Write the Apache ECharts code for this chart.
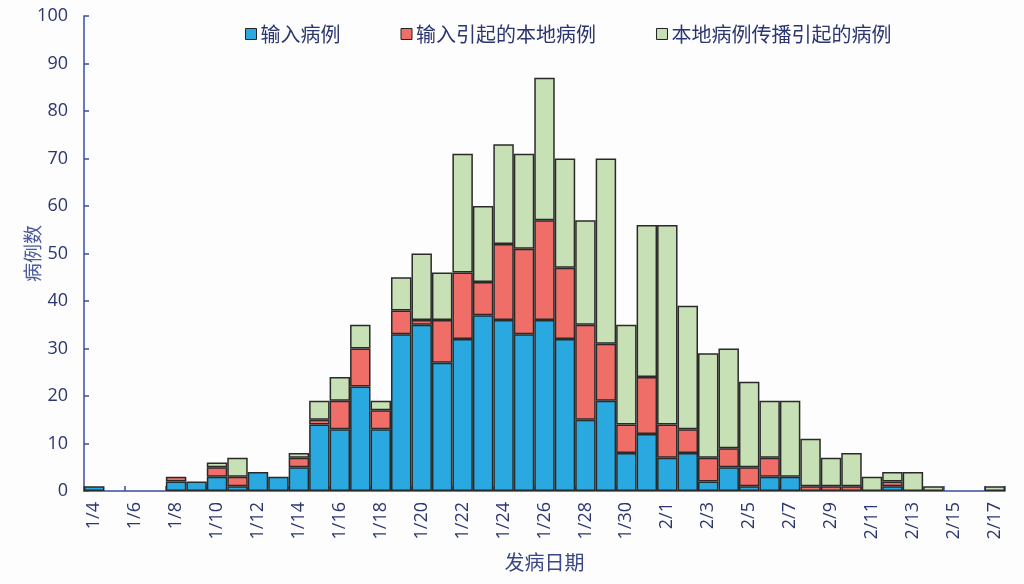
<!DOCTYPE html>
<html>
<head>
<meta charset="utf-8">
<script src="https://cdn.jsdelivr.net/npm/echarts@6/dist/echarts.min.js"></script>
<style>
html,body{margin:0;padding:0;background:#fdfdfd;}
#c{width:1024px;height:584px;}
</style>
</head>
<body>
<div id="c"></div>
<script>
// Categories (onset dates)
const dates = ['1/4','1/5','1/6','1/7','1/8','1/9','1/10','1/11','1/12','1/13','1/14','1/15','1/16','1/17','1/18','1/19','1/20','1/21','1/22','1/23','1/24','1/25','1/26','1/27','1/28','1/29','1/30','1/31',
  '2/1','2/2','2/3','2/4','2/5','2/6','2/7','2/8','2/9','2/10','2/11','2/12','2/13','2/14','2/15','2/16','2/17'];
// 输入病例
const imported = [1,0,0,0,2,2,3,1,4,3,5,14,13,22,13,33,35,27,32,37,36,33,36,32,15,19,8,12,
  7,8,2,5,1,3,3,0,0,0,0,1,0,0,0,0,0];
// 输入引起的本地病例
const localFromImported = [0,0,0,0,1,0,2,2,0,0,2,1,6,8,4,5,1,9,14,7,16,18,21,15,20,12,6,12,
  7,5,5,4,4,4,0,1,1,1,0,1,0,0,0,0,0];
// 本地病例传播引起的病例
const localFromLocal = [0,0,0,0,0,0,1,4,0,0,1,4,5,5,2,7,14,10,25,16,21,20,30,23,22,39,21,32,
  42,26,22,21,18,12,16,10,6,7,3,2,4,1,0,0,1];
const seriesNames = ['输入病例','输入引起的本地病例','本地病例传播引起的病例'];
const yTicks = [0,10,20,30,40,50,60,70,80,90,100];

const colors = ['#29A9E0','#EF6F68','#C7E0B5'];
const navy = '#2B3570';
const axisCol = '#3D4C9C';
const toSeries = (arr) => arr.map(v => v === 0 ? null : v);

const chart = echarts.init(document.getElementById('c'), null, {renderer:'canvas'});
chart.setOption({
  backgroundColor:'#fdfdfd',
  animation:false,
  color: colors,
  textStyle:{fontFamily:'"Open Sans","Noto Sans CJK SC",sans-serif'},
  legend:{
    left:240, top:19,
    itemWidth:11, itemHeight:11, itemGap:60,
    icon:'rect',
    itemStyle:{borderColor:'#222',borderWidth:1},
    textStyle:{fontSize:20,color:navy,fontFamily:'"Noto Sans CJK SC",sans-serif',padding:[0,0,0,-1]},
    data: seriesNames
  },
  grid:{left:84,right:19,top:16,bottom:93,containLabel:false},
  xAxis:{
    type:'category',
    data: dates,
    name:'发病日期',
    nameLocation:'middle',
    nameGap:61,
    nameMoveOverlap:false,
    nameTextStyle:{fontSize:20,color:'#3A4785',fontFamily:'"Noto Sans CJK SC",sans-serif'},
    axisLine:{lineStyle:{color:axisCol,width:1.5}},
    axisTick:{show:true,inside:true,length:5,interval:1,alignWithLabel:false,lineStyle:{color:axisCol,width:1.5}},
    axisLabel:{interval:1,rotate:90,margin:11,fontSize:18,color:navy,fontFamily:'"Open Sans",sans-serif'}
  },
  yAxis:{
    type:'value',
    min:0,max:100,interval:10,
    name:'病例数',
    nameLocation:'middle',
    nameRotate:90,
    nameGap:42,
    nameMoveOverlap:false,
    nameTextStyle:{fontSize:19,color:'#4A5A9A',fontFamily:'"Noto Sans CJK SC",sans-serif'},
    axisLine:{show:true,lineStyle:{color:axisCol,width:1.5}},
    axisTick:{show:true,inside:true,length:5,lineStyle:{color:axisCol,width:1.5}},
    splitLine:{show:false},
    axisLabel:{margin:16,fontSize:18,color:navy,fontFamily:'"Open Sans",sans-serif',
      formatter:(v)=> yTicks.includes(v) ? String(v) : ''}
  },
  series:[imported,localFromImported,localFromLocal].map((arr,i)=>({
    name:seriesNames[i],
    type:'bar',
    stack:'total',
    barCategoryGap:'0%',
    data:toSeries(arr),
    itemStyle:{color:colors[i],borderColor:'#2a2a2a',borderWidth:1.5}
  }))
});
</script>
</body>
</html>
